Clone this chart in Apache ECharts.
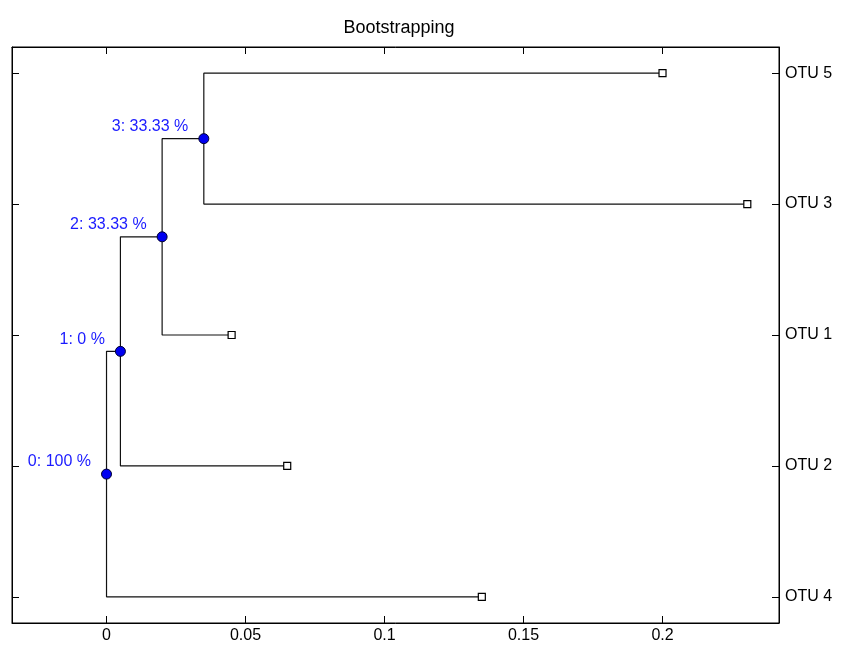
<!DOCTYPE html>
<html>
<head>
<meta charset="utf-8">
<script src="https://cdn.jsdelivr.net/npm/echarts@6/dist/echarts.min.js"></script>
<style>
  html, body { margin: 0; padding: 0; background: #fff; }
  #chart { width: 847px; height: 646px; }
</style>
</head>
<body>
<div id="chart"></div>
<script>
// Leaves, bottom to top, and their distance from the root
const leafNames = ['OTU 4', 'OTU 2', 'OTU 1', 'OTU 3', 'OTU 5'];
const leafDist = [0.135, 0.065, 0.045, 0.2305, 0.2];

// Internal nodes (branch points): distance from root and bootstrap support (%)
const nodeDist = [0, 0.005, 0.02, 0.035];
const nodeSupport = ['100', '0', '33.33', '33.33'];
// Children of each node: 'L' = leaf index, 'N' = node index
const nodeChildren = [
  [['L', 0], ['N', 1]],
  [['L', 1], ['N', 2]],
  [['L', 2], ['N', 3]],
  [['L', 4], ['L', 3]]
];

const xTicks = [0, 0.05, 0.1, 0.15, 0.2];
const xTickLabels = ['0', '0.05', '0.1', '0.15', '0.2'];
const yTicks = [1, 2, 3, 4, 5];

// Leaves sit at rows 1..n; each node sits midway between its children
const leafY = leafNames.map((_, i) => i + 1);
const nodeY = new Array(nodeDist.length);
function yOf(ref) {
  if (ref[0] === 'L') return leafY[ref[1]];
  if (nodeY[ref[1]] === undefined) {
    const ys = nodeChildren[ref[1]].map(yOf);
    nodeY[ref[1]] = (ys[0] + ys[1]) / 2;
  }
  return nodeY[ref[1]];
}
nodeDist.forEach((_, i) => yOf(['N', i]));
function xOf(ref) { return ref[0] === 'L' ? leafDist[ref[1]] : nodeDist[ref[1]]; }

// One elbow branch per parent-child pair
const branchSeries = [];
nodeChildren.forEach((kids, p) => {
  kids.forEach(k => {
    branchSeries.push({
      type: 'line',
      silent: true,
      symbol: 'none',
      animation: false,
      lineStyle: { color: '#111', width: 1.2 },
      data: [[nodeDist[p], nodeY[p]], [nodeDist[p], yOf(k)], [xOf(k), yOf(k)]],
      z: 1
    });
  });
});

const font = 'Liberation Sans, Arial, sans-serif';
const fs = 16;
const frameAxis = (extra) => Object.assign({
  splitLine: { show: false },
  axisLine: { show: true, onZero: false, lineStyle: { color: '#000', width: 1 } }
}, extra);

const chart = echarts.init(document.getElementById('chart'));
chart.setOption({
  animation: false,
  backgroundColor: '#fff',
  title: {
    text: 'Bootstrapping',
    left: 394, top: 14, textAlign: 'center',
    textStyle: { fontFamily: font, fontSize: 18, fontWeight: 'normal', color: '#000' }
  },
  grid: { left: 12, top: 47, right: 68, bottom: 23, show: true, borderColor: '#000', borderWidth: 1 },
  xAxis: [
    frameAxis({
      type: 'value', min: -0.034, max: 0.2419, position: 'bottom',
      axisTick: { show: true, inside: true, length: 7, customValues: xTicks, lineStyle: { color: '#000' } },
      axisLabel: {
        customValues: xTicks, margin: 5,
        formatter: v => xTickLabels[xTicks.findIndex(t => Math.abs(t - v) < 1e-9)] ?? '',
        fontFamily: font, fontSize: fs, color: '#000'
      }
    }),
    frameAxis({
      type: 'value', min: -0.034, max: 0.2419, position: 'top',
      axisTick: { show: true, inside: true, length: 7, customValues: xTicks, lineStyle: { color: '#000' } },
      axisLabel: { show: false }
    })
  ],
  yAxis: [
    frameAxis({
      type: 'value', min: 0.8, max: 5.2, position: 'right',
      axisTick: { show: true, inside: true, length: 7, customValues: yTicks, lineStyle: { color: '#000' } },
      axisLabel: {
        customValues: yTicks, margin: 6,
        formatter: v => leafNames[Math.round(v) - 1] ?? '',
        fontFamily: font, fontSize: fs, color: '#000'
      }
    }),
    frameAxis({
      type: 'value', min: 0.8, max: 5.2, position: 'left',
      axisTick: { show: true, inside: true, length: 7, customValues: yTicks, lineStyle: { color: '#000' } },
      axisLabel: { show: false }
    })
  ],
  series: branchSeries.concat([
    {
      type: 'scatter', name: 'leaves', symbol: 'rect', symbolSize: 7, z: 3,
      itemStyle: { color: '#fff', borderColor: '#000', borderWidth: 1.2, opacity: 1 },
      data: leafDist.map((d, i) => [d, leafY[i]])
    },
    {
      type: 'scatter', name: 'nodes', symbol: 'circle', symbolSize: 10, z: 4,
      itemStyle: { color: '#0000f0', borderColor: '#000030', borderWidth: 1, opacity: 1 },
      label: {
        show: true, position: 'left', distance: 10, offset: [0, -12],
        formatter: p => p.dataIndex + ': ' + nodeSupport[p.dataIndex] + ' %',
        fontFamily: font, fontSize: fs, color: '#1a1aff'
      },
      data: nodeDist.map((d, i) => [d, nodeY[i]])
    }
  ])
});
</script>
</body>
</html>
